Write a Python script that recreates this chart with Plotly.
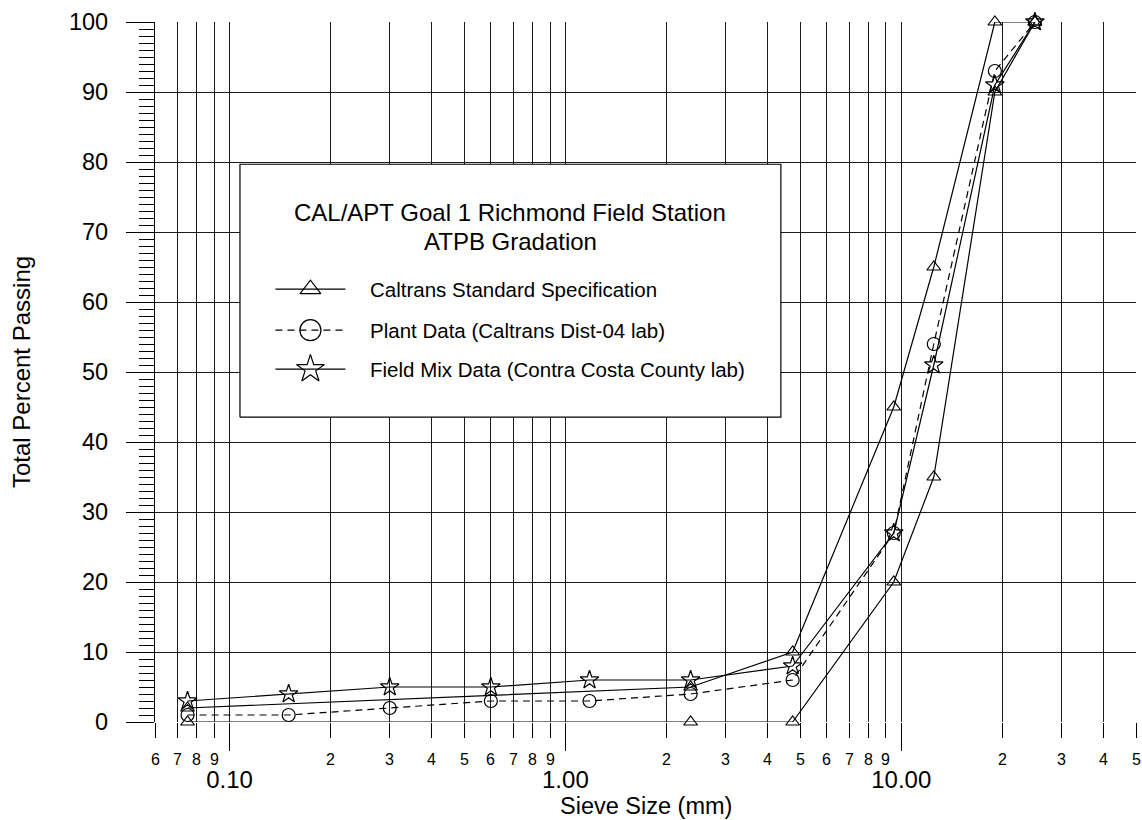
import math
import plotly.graph_objects as go

# ---------------- data ----------------
sieve_mm = [0.075, 0.15, 0.3, 0.6, 1.18, 2.36, 4.75, 9.5, 12.5, 19.0, 25.0]

spec_x = [0.075, 2.36, 4.75, 9.5, 12.5, 19.0, 25.0]
spec_upper = [2, 5, 10, 45, 65, 100, 100]
spec_lower = [0, 0, 0, 20, 35, 90, 100]

plant_pct = [1, 1, 2, 3, 3, 4, 6, 27, 54, 93, 100]
field_pct = [3, 4, 5, 5, 6, 6, 8, 27, 51, 91, 100]

decade_vals = [0.1, 1.0, 10.0]
decade_text = ["0.10", "1.00", "10.00"]
minor_vals = [0.06, 0.07, 0.08, 0.09,
              0.2, 0.3, 0.4, 0.5, 0.6, 0.7, 0.8, 0.9,
              2, 3, 4, 5, 6, 7, 8, 9,
              20, 30, 40, 50]
minor_text = ["6", "7", "8", "9",
              "2", "3", "4", "5", "6", "7", "8", "9",
              "2", "3", "4", "5", "6", "7", "8", "9",
              "2", "3", "4", "5"]

legend_title = ["CAL/APT Goal 1 Richmond Field Station", "ATPB Gradation"]
legend_names = ["Caltrans Standard Specification",
                "Plant Data (Caltrans Dist-04 lab)",
                "Field Mix Data (Contra Costa County lab)"]
x_title = "Sieve Size (mm)"
y_title = "Total Percent Passing"

FONT = "Liberation Sans, Arial, sans-serif"
INK = "#000000"
GRID = "#1a1a1a"

# plot area in pixels
W, H = 1142, 820
L, R = 154.5, 1136.0
T, B = 21.7, 722.0
pw, ph = R - L, B - T


def px(x):
    return (x - L) / pw


def py(y):
    return (B - y) / ph


fig = go.Figure()

line_style = dict(color=INK, width=1.2)
for ys in (spec_upper, spec_lower):
    fig.add_trace(go.Scatter(
        x=spec_x, y=ys, mode="lines+markers",
        line=line_style,
        marker=dict(symbol="triangle-up-open", size=12, color=INK,
                    line=dict(color=INK, width=1.2)),
        cliponaxis=False, showlegend=False, name=legend_names[0]))

fig.add_trace(go.Scatter(
    x=sieve_mm, y=plant_pct, mode="lines+markers",
    line=dict(color=INK, width=1.2, dash="7px,5px"),
    marker=dict(symbol="circle-open", size=13, color=INK,
                line=dict(color=INK, width=1.2)),
    cliponaxis=False, showlegend=False, name=legend_names[1]))

fig.add_trace(go.Scatter(
    x=sieve_mm, y=field_pct, mode="lines+markers",
    line=line_style,
    marker=dict(symbol="star-open", size=14, color=INK,
                line=dict(color=INK, width=1.2)),
    cliponaxis=False, showlegend=False, name=legend_names[2]))

# ---------------- custom legend box (overlay axes in paper units) ----------------
box_x0, box_x1 = px(239.5), px(780.7)
box_y0, box_y1 = py(417), py(164)
fig.add_trace(go.Scatter(
    x=[box_x0, box_x1, box_x1, box_x0, box_x0],
    y=[box_y0, box_y0, box_y1, box_y1, box_y0],
    xaxis="x2", yaxis="y2", mode="lines", fill="toself", fillcolor="white",
    line=dict(color=INK, width=1.2), showlegend=False, hoverinfo="skip"))

cx = (box_x0 + box_x1) / 2
for txt, yy in zip(legend_title, [212, 241]):
    fig.add_annotation(text=txt, xref="paper", yref="paper", x=cx, y=py(yy),
                       xanchor="center", yanchor="middle", showarrow=False,
                       font=dict(family=FONT, size=24, color=INK))

entry_y = [289, 330, 369]
sym = ["triangle-up-open", "circle-open", "star-open"]
sizes = [18, 21, 21]
dashes = ["solid", "7px,5px", "solid"]
for name, yy, s, sz, d in zip(legend_names, entry_y, sym, sizes, dashes):
    fig.add_trace(go.Scatter(
        x=[px(275), px(310), px(345)], y=[py(yy)] * 3,
        xaxis="x2", yaxis="y2", mode="lines",
        line=dict(color=INK, width=1.2, dash=d),
        showlegend=False, hoverinfo="skip", cliponaxis=False))
    fig.add_trace(go.Scatter(
        x=[px(310)], y=[py(yy)], xaxis="x2", yaxis="y2", mode="markers",
        marker=dict(symbol=s, size=sz, color=INK, line=dict(color=INK, width=1.2)),
        showlegend=False, hoverinfo="skip", cliponaxis=False))
    fig.add_annotation(text=name, xref="paper", yref="paper", x=px(368), y=py(yy),
                       xanchor="left", yanchor="middle", showarrow=False,
                       font=dict(family=FONT, size=20.5, color=INK))

# minor digit labels on x axis
for v, t in zip(minor_vals, minor_text):
    fig.add_annotation(text=t, xref="x", yref="paper", x=math.log10(v), y=0,
                       yshift=-37, xanchor="center", yanchor="middle",
                       showarrow=False, font=dict(family=FONT, size=16, color=INK))

# x axis title
fig.add_annotation(text=x_title, xref="paper", yref="paper", x=0.5, y=0,
                   yshift=-84, xanchor="center", yanchor="middle", showarrow=False,
                   font=dict(family=FONT, size=23.5, color=INK))

fig.update_layout(
    width=W, height=H,
    margin=dict(l=L, r=W - R, t=T, b=H - B, autoexpand=False),
    paper_bgcolor="white", plot_bgcolor="white",
    font=dict(family=FONT, color=INK),
    showlegend=False,
    xaxis=dict(
        type="log", range=[math.log10(0.06), math.log10(50)],
        tickmode="array", tickvals=decade_vals, ticktext=decade_text,
        ticks="outside", ticklen=28, tickcolor=INK, tickwidth=1,
        tickfont=dict(family=FONT, size=24, color=INK),
        ticklabelstandoff=8,
        showgrid=True, gridcolor=GRID, gridwidth=1,
        minor=dict(tickmode="array", tickvals=minor_vals, ticks="outside",
                   ticklen=15, tickcolor=INK, tickwidth=1,
                   showgrid=True, gridcolor=GRID, gridwidth=1),
        showline=False, zeroline=False, automargin=False,
    ),
    yaxis=dict(
        range=[0, 100], tickmode="linear", tick0=0, dtick=10,
        ticks="outside", ticklen=28, tickcolor=INK, tickwidth=1,
        tickfont=dict(family=FONT, size=23.5, color=INK),
        ticklabelstandoff=13,
        showgrid=True, gridcolor=GRID, gridwidth=1,
        minor=dict(dtick=1, ticks="outside", ticklen=15, tickcolor=INK,
                   tickwidth=1, showgrid=False),
        showline=True, linecolor=INK, linewidth=1.2,
        zeroline=False, automargin=False,
        title=dict(text=y_title, standoff=31,
                   font=dict(family=FONT, size=24, color=INK)),
    ),
    xaxis2=dict(overlaying="x", range=[0, 1], visible=False, fixedrange=True),
    yaxis2=dict(overlaying="y", range=[0, 1], visible=False, fixedrange=True),
)

# the page body has a default 8px margin; remove it so the 1142x820 figure fills the window
fig.write_html("out.html", config={"displayModeBar": False},
               post_script="document.body.style.margin='0';")
